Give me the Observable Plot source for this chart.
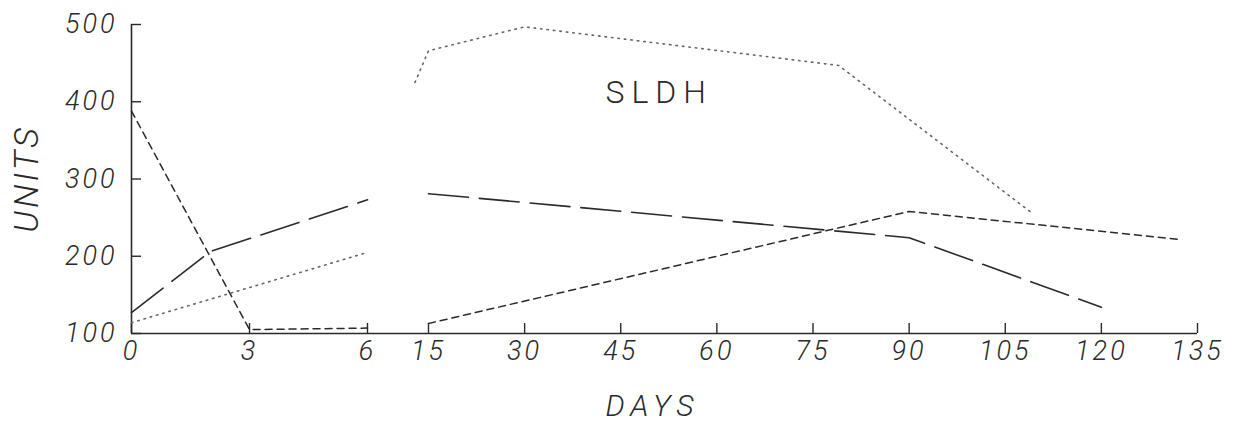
<!DOCTYPE html>
<html>
<head>
<meta charset="utf-8">
<script src="https://cdn.jsdelivr.net/npm/d3@7"></script>
<script src="https://cdn.jsdelivr.net/npm/@observablehq/plot@0.6"></script>
<style>
  html, body { margin: 0; padding: 0; background: #fff; }
  #chart svg { display: block; }
  #chart svg g[aria-label$="tick label"] text { font-size: 27px !important; letter-spacing: 3px; }
</style>
</head>
<body>
<div id="chart"></div>
<script>
// Day axis is broken: 0–6 is stretched, then 15–135 in 15-day steps.
const dayTicks = [0, 3, 6, 15, 30, 45, 60, 75, 90, 105, 120, 135];
const unitTicks = [100, 200, 300, 400, 500];

// null entries break each curve at the gap between day 6 and day 15
const longDashDays  = [0, 2, 6, null, 15, 90, 120];
const longDashUnits = [127, 206, 273, null, 281, 224, 134];

const shortDashDays  = [0, 3, 6, null, 15, 90, 132];
const shortDashUnits = [388, 105, 107, null, 113, 258, 222];

const dottedDays  = [0, 6, null, 13, 15, 30, 79, 109];
const dottedUnits = [114, 205, null, 425, 466, 497, 447, 257];

const enzymeLabel = "SLDH";
const enzymeLabelAt = {day: 51, units: 412};

const toRows = (days, units) => days.map((d, i) => ({day: d, units: units[i]}));
const longDash = toRows(longDashDays, longDashUnits);
const shortDash = toRows(shortDashDays, shortDashUnits);
const dotted = toRows(dottedDays, dottedUnits);

const ink = "#2a2a2a";
const font = "Roboto, 'DejaVu Sans', sans-serif";

const chart = Plot.plot({
  width: 1238,
  height: 425,
  marginLeft: 131,
  marginRight: 41,
  marginTop: 24,
  marginBottom: 92,
  style: {fontFamily: font, fontSize: "27px", fontStyle: "italic", fontWeight: 300, color: ink, background: "#fff"},
  x: {type: "linear", domain: [0, 6, 15, 135], range: [131, 367, 428, 1197]},
  y: {domain: [100, 500], range: [333, 24]},
  marks: [
    // frame lines
    Plot.ruleY([100], {x1: 0, x2: 135, stroke: ink, strokeWidth: 1.6}),
    Plot.ruleX([0], {y1: 100, y2: 500, stroke: ink, strokeWidth: 1.6}),
    Plot.axisX({ticks: dayTicks, tickSize: -10, tickPadding: 17, tickFormat: d => String(d),
      stroke: ink, strokeWidth: 1.4, label: null}),
    Plot.axisY({ticks: unitTicks, tickSize: -10, tickPadding: 24, tickFormat: d => String(d),
      stroke: ink, strokeWidth: 1.4, label: null}),
    // curves
    Plot.line(longDash, {x: "day", y: "units", stroke: ink, strokeWidth: 1.6, strokeDasharray: "40,11"}),
    Plot.line(shortDash, {x: "day", y: "units", stroke: ink, strokeWidth: 1.5, strokeDasharray: "7,5"}),
    Plot.line(dotted, {x: "day", y: "units", stroke: "#666", strokeWidth: 1.6, strokeDasharray: "1.5,5", strokeLinecap: "round"}),
    // labels
    Plot.text([enzymeLabel], {x: enzymeLabelAt.day, y: enzymeLabelAt.units, text: d => d,
      fontSize: 32, fontStyle: "normal", fill: ink, fontWeight: 300}),
    Plot.text(["UNITS"], {frameAnchor: "left", dx: -104, rotate: -90, text: d => d,
      textAnchor: "middle", lineAnchor: "middle", fontSize: 34, fill: ink}),
    Plot.text(["DAYS"], {frameAnchor: "bottom", dx: -12, dy: 73, text: d => d,
      textAnchor: "middle", lineAnchor: "middle", fontSize: 30, fill: ink})
  ]
});

document.getElementById("chart").append(chart);

// widen lettering on the titles
const spacing = {SLDH: 7, DAYS: 6, UNITS: 3};
chart.querySelectorAll("text").forEach(t => {
  const s = t.textContent;
  if (s in spacing) t.setAttribute("letter-spacing", spacing[s]);
});
</script>
</body>
</html>
